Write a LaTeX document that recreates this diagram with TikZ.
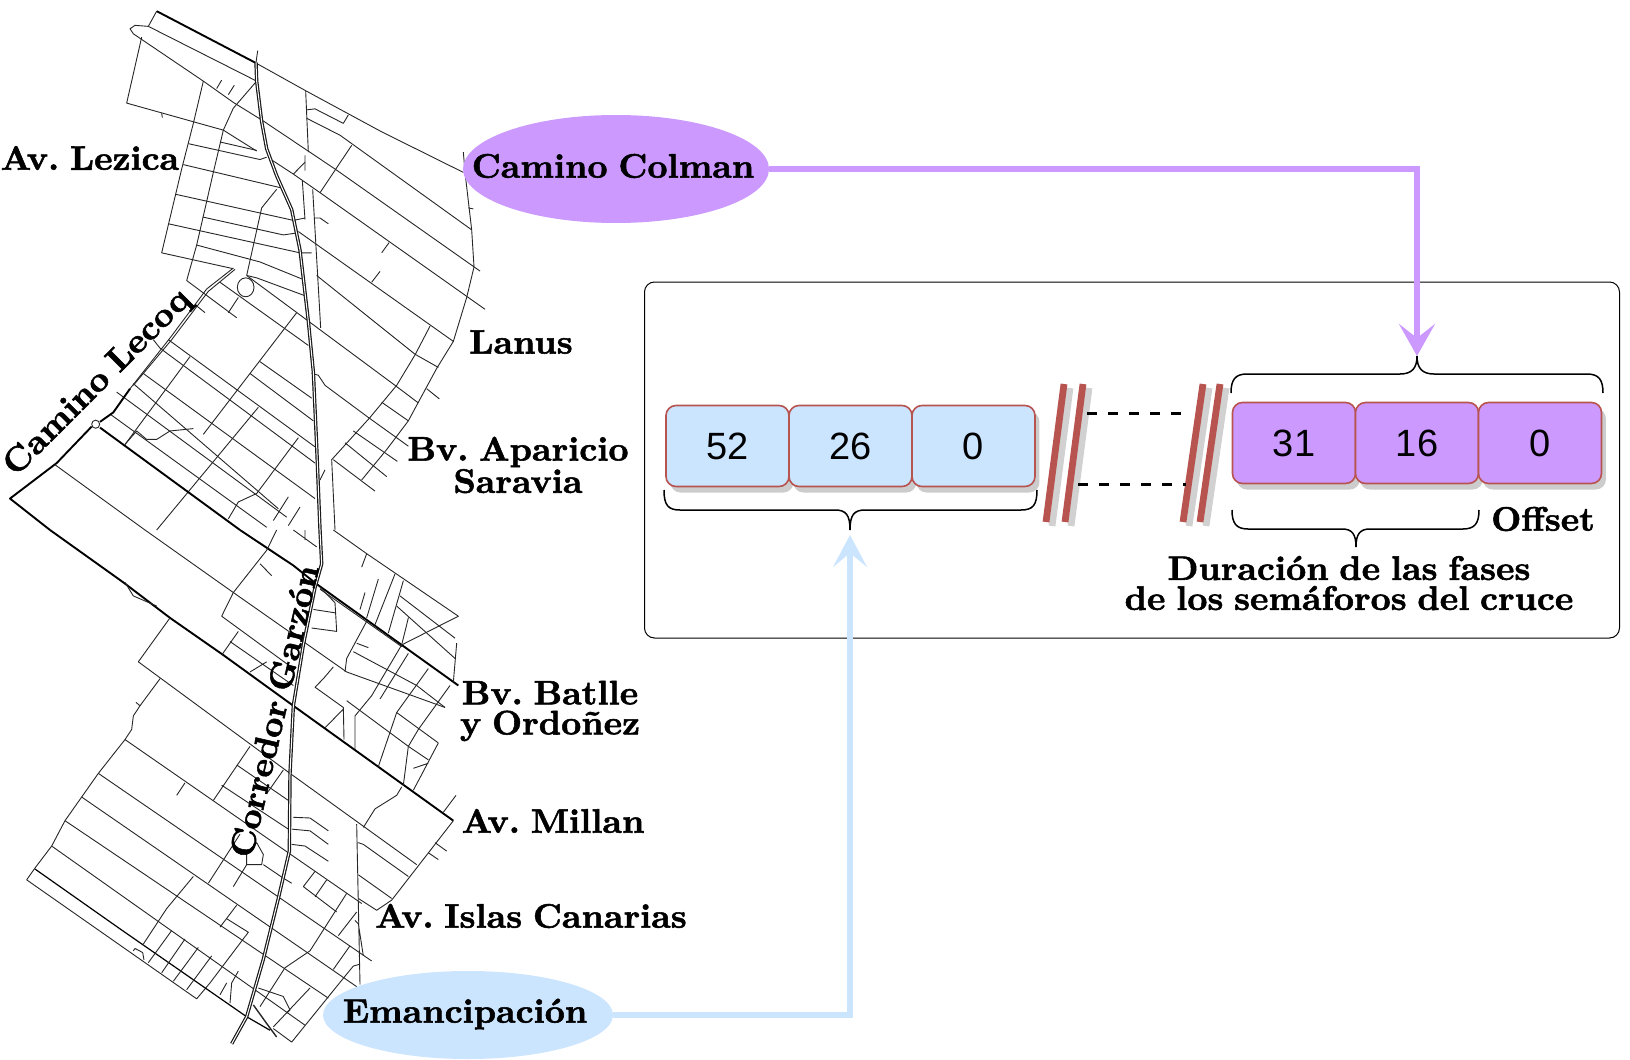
\documentclass[tikz,border=0pt]{standalone}
\usetikzlibrary{arrows.meta,shadows,shapes.geometric}
\usepackage{fontspec}
\newfontfamily\boxfont{Liberation Sans}
\newfontfamily\labfont[FakeBold=1.6,FakeStretch=1.03,WordSpace=0.8]{lmroman10-bold.otf}
\definecolor{purp}{HTML}{CC99FF}
\definecolor{lblue}{HTML}{CCE5FF}
\definecolor{redl}{HTML}{B85450}
\tikzset{
 road/.style={line width=0.45pt,black!85,line join=round},
 major/.style={line width=0.95pt,black,line join=round},
 corr/.style={line width=0.6pt,black!90,double=white,double distance=0.5pt,line join=round},
 lab/.style={font=\labfont\fontsize{17}{15}\selectfont\frenchspacing,align=center,inner sep=0pt,text=black},
 cell/.style={draw=redl,line width=0.8pt,rounded corners=5pt,minimum height=40.5pt,minimum width=61.5pt,inner sep=0pt,font=\boxfont\fontsize{19}{19}\selectfont,drop shadow={shadow xshift=2.2pt,shadow yshift=-3pt,fill=black!20,opacity=1}},
 cut/.style={line width=3.4pt,redl},
 cutsh/.style={line width=3.4pt,black!18},
 brace/.style={line width=0.75pt,black},
 dash3/.style={line width=1.5pt,black,dash pattern=on 5pt off 5.5pt},
 link/.style={line width=2.6pt,line join=miter},
}
\begin{document}
\begin{tikzpicture}[x=0.5pt,y=-0.5pt]
\useasboundingbox (0,0) rectangle (1630,1060);
% ---- road network, upper half
\begin{scope}[x=0.16667pt,y=-0.169pt]
\draw[major] (470,33)--(765,185);
\draw[road] (470,33)--(445,78)--(405,75)--(390,85)--(400,100)--(610,240)--(700,303)--(790,358)--(1005,500)--(1440,802);
\draw[road] (445,78)--(770,240);
\draw[road] (765,185)--(920,270)--(1145,390)--(1390,510);
\draw[road] (425,110)--(380,305)--(670,385)--(770,447);
\draw[road] (610,240)--(580,365)--(545,500)--(485,748)--(700,795);
\draw[road] (770,240)--(700,320)--(670,385)--(640,510)--(590,725)--(560,830)--(710,940);
\draw[road] (565,425)--(780,472)--(800,465);
\draw[road] (660,420)--(770,445);
\draw[road] (550,487)--(840,555);
\draw[road] (528,575)--(880,652)--(915,645);
\draw[road] (608,642)--(850,695)--(885,690);
\draw[road] (505,662)--(900,748)--(935,748);
\draw[road] (590,725)--(780,775)--(905,825);
\draw[road] (740,815)--(770,822)--(915,875);
\draw[road] (830,560)--(785,615)--(740,815);
\draw[road] (737,850) ellipse [x radius=25,y radius=28];
\draw[road] (650,262)--(665,237) (685,280)--(703,252) (485,335)--(487,348);
\draw[road] (920,350)--(1020,400)--(1415,680);
\draw[road] (810,470)--(880,515)--(960,570)--(1455,915);
\draw[road] (895,685)--(1360,1010);
\draw[road] (950,815)--(1245,1048)--(1315,1087);
\draw[road] (925,950)--(1185,1140)--(1255,1192);
\draw[road] (1280,1150)--(1318,1180);
\draw[road] (935,1105)--(955,1110)--(975,1140)--(1105,1235)--(1225,1320);
\draw[road] (960,570)--(1055,430) (880,515)--(915,480);
\draw[road] (1145,748)--(1167,718) (1115,835)--(1140,803);
\draw[road] (1390,450)--(1395,510)--(1415,680)--(1422,790)--(1400,880)--(1360,1010)--(1310,1090)--(1255,1190)--(1225,1245)--(1160,1330)--(1085,1420);
\draw[road] (1290,965)--(1245,1050)--(1190,1140)--(1110,1235)--(995,1360)--(1005,1568);
\draw[road] (1000,1360)--(1125,1453) (1035,1310)--(1160,1410) (1060,1275)--(1192,1365) (1145,1190)--(1225,1245);
\draw[road] (917,270)--(925,450) (915,460)--(915,505) (907,535)--(915,650) (938,560)--(962,970);
\draw[road] (920,325)--(945,322)--(1030,365)--(1045,340);
\draw[road] (945,645)--(960,645)--(985,662);
\draw[road] (960,1420)--(975,1390);
\draw[road] (1405,615)--(1420,618);
% block between Lecoq and corridor
\draw[road] (660,835)--(925,1022);
\draw[road] (740,815)--(925,950);
\draw[road] (590,905)--(615,925);
\draw[road] (505,1005)--(945,1322);
\draw[road] (460,1005)--(480,1030)--(945,1370);
\draw[road] (430,1105)--(945,1475);
\draw[road] (400,1135)--(835,1505);
\draw[road] (350,1160)--(860,1530);
\draw[road] (330,1225)--(800,1560);
\draw[road] (780,1070)--(935,1178) (750,1105)--(940,1245);
\draw[road] (375,1315)--(570,1055);
\draw[road] (610,1285)--(890,925);
\draw[road] (470,1568)--(775,1205);
\draw[road] (685,925)--(715,880);
\draw[road] (820,1540)--(865,1470) (865,1555)--(900,1500);
\draw[road] (685,1535)--(715,1485)--(770,1460)--(895,1295);
\draw[road] (375,1315)--(410,1275)--(440,1300)--(470,1300)--(510,1275)--(580,1268);
% Camino Lecoq
\draw[road] (700,793)--(620,855)--(510,1000)--(390,1150);
\draw[road] (705,797)--(625,862)--(515,1005)--(400,1140);
\draw[major] (390,1150)--(340,1220)--(300,1248);
\draw[major] (275,1262)--(170,1370)--(30,1475)--(150,1568);
\draw[major] (300,1265)--(720,1568);
\draw[road] (165,1375)--(435,1568);
\draw[road,fill=white] (287,1255) circle [x radius=12,y radius=12];
% corridor
\draw[road] (773,150)--(768,185);
\draw[corr] (768,185)--(770,240)--(785,360)--(800,440)--(830,520)--(875,620)--(900,740)--(925,950)--(940,1100)--(950,1320)--(960,1568);
\end{scope}
% ---- road network, lower half
\begin{scope}[yshift=-265pt,x=0.16667pt,y=-0.169pt]
\draw[major] (150,0)--(370,155)--(510,260)--(670,370)--(880,520)--(1360,860);
\draw[road] (375,155)--(400,195)--(470,225);
\draw[major] (720,0)--(880,105)--(950,160)--(1375,460);
\draw[road] (960,175)--(1205,345);
\draw[road] (435,0)--(700,185)--(1040,420)--(1335,525);
\draw[road] (830,0)--(800,60)--(700,185)--(665,255)--(880,410);
\draw[road] (780,100)--(815,135);
\draw[road] (715,300)--(665,370) (690,330)--(880,460) (800,390)--(750,420);
\draw[road] (915,0)--(915,30) (880,0)--(950,50);
\draw[road] (1000,0)--(1100,70)--(1375,255)--(1205,340);
\draw[road] (1100,70)--(1085,110) (1185,130)--(1125,280) (1135,145)--(1100,260) (1095,185)--(1080,235) (1210,150)--(1165,305);
\draw[road] (1200,195)--(1365,320) (1190,225)--(1365,380) (1225,260)--(1205,340) (1370,335)--(1360,450);
\draw[road] (960,170)--(1005,215)--(1010,300)--(935,290) (940,235)--(1005,245);
\draw[road] (1100,270)--(1040,380)--(1035,420);
\draw[road] (1060,360)--(1250,460)--(1335,525) (1070,335)--(1105,348);
\draw[road] (1205,340)--(1115,490)--(1065,550)--(1065,650);
\draw[road] (1225,365)--(1140,500);
\draw[road] (1285,410)--(1190,540)--(1135,700);
\draw[road] (1350,460)--(1255,590)--(1225,640)--(1210,755);
\draw[road] (1040,505)--(1225,640)--(1285,680);
\draw[road] (1315,630)--(1240,770) (1190,540)--(1315,630) (1240,705)--(1285,690);
\draw[road] (1000,405)--(970,440)--(945,465)--(1030,525)--(1032,620) (1030,530)--(975,585);
\draw[road] (1205,760)--(1190,785)--(1125,825)--(1090,880);
\draw[road] (1368,785)--(1330,835);
\draw[road] (1360,860)--(1175,1095)--(1130,1125)--(1075,1090);
\draw[road] (1305,925)--(1340,950) (1285,955)--(1315,975);
\draw[road] (870,720)--(1250,990);
\draw[road] (1075,925)--(1090,930)--(1225,1025) (1075,1020)--(1175,1090);
\draw[road] (1070,870)--(1080,1345) (1065,1155)--(1075,1165)--(1090,1260);
\draw[road] (415,390)--(510,260);
\draw[road] (415,390)--(870,720);
\draw[road] (480,440)--(420,520)--(400,550)--(395,590)--(375,620)--(295,720)--(245,790)--(195,860)--(155,935)--(105,1000)--(80,1035);
\draw[road] (408,510)--(420,520);
\draw[road] (80,1035)--(590,1387)--(630,1340)--(745,1190)--(680,1150);
\draw[major,line width=0.6pt] (105,1003)--(360,1180)--(740,1440)--(810,1480);
\draw[road] (375,620)--(865,955)--(1085,1105);
\draw[road] (295,720)--(1115,1275);
\draw[road] (245,790)--(1070,1351);
\draw[road] (195,860)--(985,1385);
\draw[road] (155,935)--(915,1465);
\draw[road] (640,800)--(750,640) (710,695)--(865,800) (665,755)--(865,885) (530,785)--(555,748);
\draw[road] (850,710)--(800,780);
\draw[road] (625,1045)--(720,900);
\draw[road] (580,1025)--(500,1120)--(430,1225);
\draw[road] (445,1280)--(515,1185) (485,1310)--(555,1210) (520,1335)--(595,1235) (560,1360)--(635,1260);
\draw[road] (660,1175)--(710,1110);
\draw[road] (660,1375)--(680,1340) (690,1400)--(695,1340)--(715,1305);
\draw[road] (400,1245)--(405,1238)--(428,1250)--(432,1272);
\draw[road] (700,1055)--(740,990)--(785,990)--(790,960)--(770,925)--(740,960)--(740,990);
\draw[road] (790,990)--(850,1030)--(875,1045);
\draw[road] (910,1055)--(945,1010) (945,1085)--(980,1035) (910,1055)--(970,1100)--(1010,1130);
\draw[road] (1015,1200)--(1070,1130);
\draw[road] (1040,1075)--(930,1245)--(855,1295)--(780,1410);
\draw[road] (1000,1300)--(1050,1230);
\draw[road] (1078,1285)--(1060,1290)--(1035,1320)--(875,1515)--(820,1475);
\draw[road] (820,1470)--(930,1355);
\draw[road] (775,1355)--(850,1380)--(870,1420)--(860,1430);
\draw[road,line width=0.7pt] (760,1405)--(800,1460)--(830,1500);
\draw[road] (880,850)--(930,852)--(985,890) (875,885)--(930,890)--(985,930) (875,930)--(915,935)--(985,980);
\draw[corr] (960,0)--(965,100)--(945,170)--(910,340)--(880,520)--(870,720)--(868,950)--(835,1090)--(790,1270)--(740,1440)--(695,1520);
\end{scope}
% ---- panel
\node[draw,line width=0.5pt,rounded corners=5pt,minimum width=487.5pt,minimum height=178pt,inner sep=0pt] (panel) at (1132,460) {};
% ---- ellipses
\node[ellipse,fill=purp,minimum width=153pt,minimum height=54pt,inner sep=0pt] (colman) at (616,169) {};
\node[ellipse,fill=lblue,minimum width=145pt,minimum height=44pt,inner sep=0pt] (eman) at (468,1015) {};
\node[lab] at (613,166) {Camino Colman};
\node[lab] at (465,1014) {Emancipación};
% ---- cells
\node[cell,fill=lblue] (b1) at (727.5,446) {52};
\node[cell,fill=lblue] (b2) at (850.5,446) {26};
\node[cell,fill=lblue] (b3) at (973.5,446) {0};
\node[cell,fill=purp] (p1) at (1294,443) {31};
\node[cell,fill=purp] (p2) at (1417,443) {16};
\node[cell,fill=purp] (p3) at (1540,443) {0};
% ---- cut marks
\draw[cutsh] (1070,388)--(1052,526) (1089,388)--(1071,526) (1209,388)--(1189,526) (1226,388)--(1206,526);
\draw[cut] (1064,384)--(1046,522) (1083,384)--(1065,522) (1203,384)--(1183,522) (1220,384)--(1200,522);
\draw[dash3] (1087,413)--(1190,413) (1078,484)--(1186,484);
% ---- braces
\coordinate (tipA) at (850,530);
\coordinate (headA) at (850,535);
\coordinate (tipB) at (1417,356);
\draw[brace] (664,490) .. controls (664,505) and (668,510) .. (680,510) -- (835,510) .. controls (846,510) and (850,515) .. (tipA);
\draw[brace] (1037,490) .. controls (1037,505) and (1033,510) .. (1021,510) -- (865,510) .. controls (854,510) and (850,515) .. (tipA);
\draw[brace] (1231,393) .. controls (1231,380) and (1235,374) .. (1247,374) -- (1400,374) .. controls (1412,374) and (1417,368) .. (tipB);
\draw[brace] (1603,393) .. controls (1603,380) and (1599,374) .. (1587,374) -- (1434,374) .. controls (1422,374) and (1417,368) .. (tipB);
\coordinate (tipC) at (1356,547);
\draw[brace] (1232,510) .. controls (1232,523) and (1236,529) .. (1248,529) -- (1342,529) .. controls (1352,529) and (1356,534) .. (tipC);
\draw[brace] (1479,510) .. controls (1479,523) and (1475,529) .. (1463,529) -- (1370,529) .. controls (1360,529) and (1356,534) .. (tipC);
% ---- connectors
\draw[link,purp,-{Stealth[length=16pt,width=18pt,inset=7pt]}] (colman.east) -| (tipB);
\draw[link,lblue,-{Stealth[length=16pt,width=17pt,inset=7pt]}] (eman.east) -| (headA);
% ---- labels
\node[lab] (l1) at (90,158) {Av. Lezica};
\node[lab] (l2) at (521,342) {Lanus};
\node[lab] (l3) at (518,465) {Bv. Aparicio\\Saravia};
\node[lab] (l4) at (550,711) {Bv. Batlle\\y Ordoñez};
\node[lab] (l5) at (553,821) {Av. Millan};
\node[lab] (l6) at (531,916) {Av. Islas Canarias};
\node[lab,rotate=45] (l7) at (98,383) {Camino Lecoq};
\node[lab,rotate=77] (l8) at (274,711) {Corredor Garzón};
\node[lab] (l9) at (1543,519) {Offset};
\node[lab] (l10) at (1349,583) {Duración de las fases\\de los semáforos del cruce};
\end{tikzpicture}
\end{document}
